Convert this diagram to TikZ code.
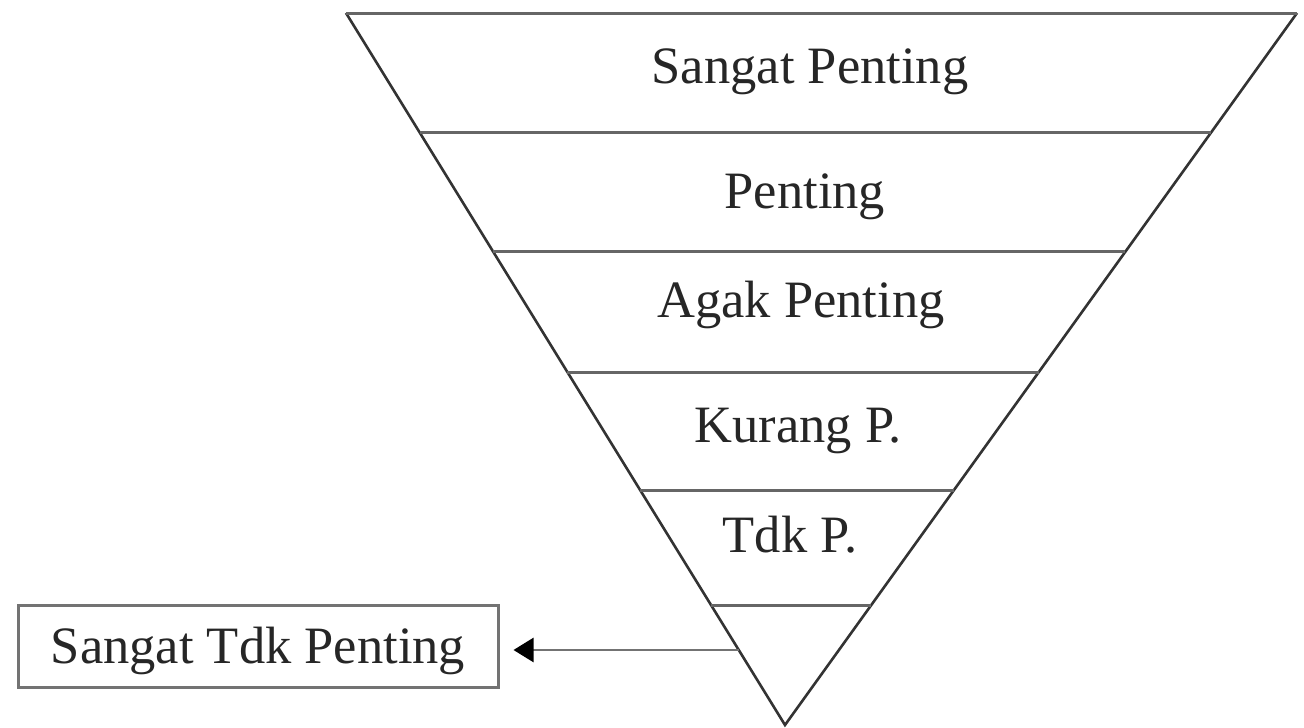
\documentclass[tikz,border=0pt]{standalone}
\usepackage{fontspec}
\setmainfont{Liberation Serif}
\usetikzlibrary{calc,arrows.meta}
\begin{document}
\begin{tikzpicture}[x=1pt,y=-1pt,
  edge/.style={draw=black!80, line width=2.6pt},
  level/.style={draw=black!60, line width=3pt},
  label/.style={anchor=base, inner sep=0pt, text=black!85, font=\fontsize{52.5}{60}\selectfont},
  tagbox/.style={draw=black!55, line width=3pt, minimum width=480pt, minimum height=82pt, inner sep=0pt},
  pointer/.style={draw=black!55, line width=2.6pt, -{Triangle[length=20pt,width=24pt,black]}}]
\useasboundingbox (0,0) rectangle (1304,728);

% inverted triangle
\coordinate (tl) at (346,13);
\coordinate (tr) at (1297,13);
\coordinate (apex) at (785,725);
\draw[edge, line join=miter] (tl) -- (apex) -- (tr);
\draw[level] (tl) -- (tr);

% dividing levels
\foreach \y/\n in {133/a,252/b,372/c,490/d,605/e}{
  \coordinate (L\n) at ($(tl)!{(\y-13)/712}!(apex)$);
  \coordinate (R\n) at ($(tr)!{(\y-13)/712}!(apex)$);
  \draw[level] (L\n) -- (R\n);
}

% level labels
\node[label] (t1) at (810,83) {Sangat Penting};
\node[label] (t2) at (805,208) {Penting};
\node[label] (t3) at (801,317) {Agak Penting};
\node[label] (t4) at (798,442) {Kurang P.};
\node[label] (t5) at (790,552) {Tdk P.};

% lowest level pointer
\node[tagbox] (box) at (258,646) {};
\node[label] (t6) at (258,663) {Sangat Tdk Penting};
\coordinate (src) at ($(tl)!{(650-13)/712}!(apex)$);
\draw[pointer] (src) -- ([xshift=14pt]box.east |- src);
\end{tikzpicture}
\end{document}
